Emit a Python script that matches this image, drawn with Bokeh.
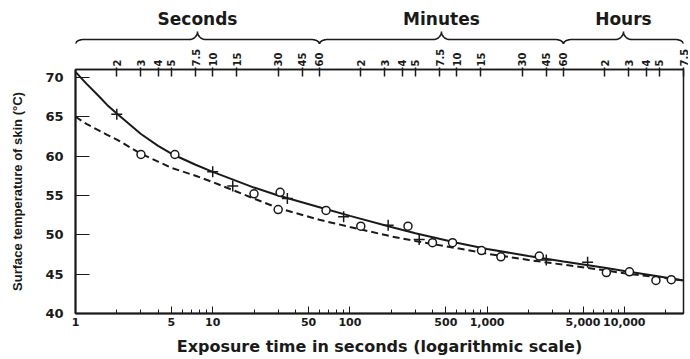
import numpy as np
from bokeh.plotting import figure
from bokeh.models import (LogAxis, FixedTicker, NumeralTickFormatter, Range1d,
                          CustomJSTickFormatter)
from bokeh.layouts import column
from bokeh.core.properties import value
from bokeh.embed import file_html
from bokeh.resources import INLINE

# ---- data ----
time_s = [1, 1.2, 1.5, 1.7, 2, 3, 4, 5, 7.5, 10, 20, 30, 60, 100, 200, 300, 600,
          1000, 2000, 3600, 7200, 10000, 18000, 27000]
temp_solid = [70.7, 69.2, 67.5, 66.5, 65.4, 62.8, 61.3, 60.3, 58.9, 58.0, 56.0,
              55.0, 53.5, 52.4, 51.0, 50.2, 49.0, 48.2, 47.3, 46.6, 45.8, 45.4,
              44.7, 44.2]
temp_dashed = [65.0, 64.1, 63.2, 62.7, 62.1, 60.3, 59.3, 58.5, 57.5, 56.7, 54.6,
               53.4, 51.9, 51.0, 49.8, 49.2, 48.3, 47.6, 46.8, 46.2, 45.5, 45.1,
               44.6, 44.2]

plus_t = [2, 10, 14, 35, 90, 190, 320, 2700, 5400]
plus_T = [65.3, 58.0, 56.2, 54.6, 52.3, 51.2, 49.4, 46.8, 46.5]
circle_t = [3, 5.3, 20, 31, 30, 67, 120, 265, 400, 560, 910, 1260, 2400,
            7400, 10900, 17000, 22000]
circle_T = [60.2, 60.2, 55.2, 55.4, 53.2, 53.1, 51.1, 51.1, 49.0, 49.0, 48.0,
            47.2, 47.3, 45.2, 45.3, 44.2, 44.3]

y_ticks = [40, 45, 50, 55, 60, 65, 70]
bottom_ticks = [1, 5, 10, 50, 100, 500, 1000, 5000, 10000]
bottom_minor = [m * d for d in [1, 10, 100, 1000, 10000] for m in range(2, 10)
                if m * d <= 27000]

top_ticks = [2, 3, 4, 5, 7.5, 10, 15, 30, 45, 60,
             120, 180, 240, 300, 450, 600, 900, 1800, 2700, 3600,
             7200, 10800, 14400, 18000, 27000]
top_labels = ["2", "3", "4", "5", "7.5", "10", "15", "30", "45", "60",
              "2", "3", "4", "5", "7.5", "10", "15", "30", "45", "60",
              "2", "3", "4", "5", "7.5"]

sections = ["Seconds", "Minutes", "Hours"]
section_bounds = [1, 60, 3600, 27000]

INK = "#1a1a1a"
FONT = "DejaVu Sans"

W = 688
LEFT, RIGHT = 75, 5
TOP_H = 45

# ---- main chart ----
p = figure(width=W, height=313, x_axis_type="log",
           x_range=Range1d(1, 27000), y_range=Range1d(40, 71),
           output_backend="svg", toolbar_location=None,
           min_border_left=LEFT, min_border_right=RIGHT,
           min_border_top=17, min_border_bottom=45)
p.grid.visible = False
p.outline_line_color = INK
p.outline_line_width = 1.5
p.background_fill_color = "white"

xa = p.xaxis[0]
xa.ticker = FixedTicker(ticks=bottom_ticks, minor_ticks=bottom_minor)
xa.formatter = NumeralTickFormatter(format="0,0")
xa.major_tick_in = 7
xa.major_tick_out = 0
xa.minor_tick_in = 4
xa.minor_tick_out = 0
xa.axis_line_width = 2
xa.axis_line_color = INK
xa.major_tick_line_color = INK
xa.minor_tick_line_color = INK
xa.major_label_text_font = FONT
xa.major_label_text_font_style = "bold"
xa.major_label_text_font_size = "11px"
xa.major_label_text_color = INK
xa.major_label_standoff = 4
xa.axis_label = "Exposure time in seconds (logarithmic scale)"
xa.axis_label_text_font = FONT
xa.axis_label_text_font_style = "bold"
xa.axis_label_text_font_size = "16px"
xa.axis_label_text_color = INK
xa.axis_label_standoff = 8

ya = p.yaxis[0]
ya.ticker = FixedTicker(ticks=y_ticks)
ya.major_tick_in = 14
ya.major_tick_out = 0
ya.minor_tick_line_color = None
ya.axis_line_width = 2
ya.axis_line_color = INK
ya.major_tick_line_color = INK
ya.major_label_text_font = FONT
ya.major_label_text_font_style = "bold"
ya.major_label_text_font_size = "13px"
ya.major_label_text_color = INK
ya.major_label_standoff = 12
ya.axis_label = "Surface temperature of skin (°C)"
ya.axis_label_text_font = "Liberation Sans"
ya.axis_label_text_font_style = "bold"
ya.axis_label_text_font_size = "13px"
ya.axis_label_text_color = INK
ya.axis_label_standoff = 17

top_axis = LogAxis(
    ticker=FixedTicker(ticks=top_ticks, minor_ticks=[]),
    formatter=CustomJSTickFormatter(
        args=dict(tvals=top_ticks, tlabs=top_labels),
        code="""
        for (let i = 0; i < tvals.length; i++) {
            if (Math.abs(tvals[i] - tick) < 1e-6 * tvals[i]) return tlabs[i];
        }
        return '';
        """),
    major_label_orientation="vertical",
    major_tick_in=7, major_tick_out=2,
    minor_tick_line_color=None,
    axis_line_width=1.5, axis_line_color=INK,
    major_tick_line_color=INK, major_tick_line_width=1.5,
    major_label_text_font=FONT, major_label_text_font_style="bold",
    major_label_text_font_size="10px", major_label_text_color=INK,
    major_label_standoff=1,
)
p.add_layout(top_axis, "above")

p.line(time_s, temp_solid, line_color=INK, line_width=2)
p.line(time_s, temp_dashed, line_color=INK, line_width=2, line_dash="7 4")
p.scatter(plus_t, plus_T, marker="cross", size=11, line_color=INK, line_width=1.5)
p.scatter(circle_t, circle_T, marker="circle", size=8, fill_color="white",
          line_color=INK, line_width=1.5)

# ---- braces with section names ----
top = figure(width=W, height=TOP_H, x_axis_type="log", x_range=p.x_range,
             y_range=Range1d(0, TOP_H), output_backend="svg",
             toolbar_location=None,
             min_border_left=LEFT, min_border_right=RIGHT,
             min_border_top=0, min_border_bottom=0)
top.axis.visible = False
top.grid.visible = False
top.outline_line_color = None

y_end, y_mid, y_peak = 1.5, 6.0, 14.0
r = 0.06
th = np.linspace(0, np.pi / 2, 12)
xs, ys, mids = [], [], []
for a, b in zip(section_bounds[:-1], section_bounds[1:]):
    ua, ub = np.log10(a), np.log10(b)
    um = (ua + ub) / 2
    mids.append(10 ** um)
    u1 = ua + r - r * np.cos(th); v1 = y_end + (y_mid - y_end) * np.sin(th)
    u2 = um - r + r * np.sin(th); v2 = y_peak - (y_peak - y_mid) * np.cos(th)
    left_u = np.concatenate([u1, u2]); left_v = np.concatenate([v1, v2])
    right_u = 2 * um - left_u[::-1]; right_v = left_v[::-1]
    u_all = np.concatenate([left_u, right_u]); v_all = np.concatenate([left_v, right_v])
    xs.append(list(10 ** u_all)); ys.append(list(v_all))

top.multi_line(xs, ys, line_color=INK, line_width=1.6)
top.text(x=mids, y=[27] * 3, text=sections, text_align="center",
         text_baseline="middle", text_font=value(FONT), text_font_style="bold",
         text_font_size="17px", text_color=INK)

layout = column(top, p)
open("out.html", "w").write(file_html(layout, INLINE))
